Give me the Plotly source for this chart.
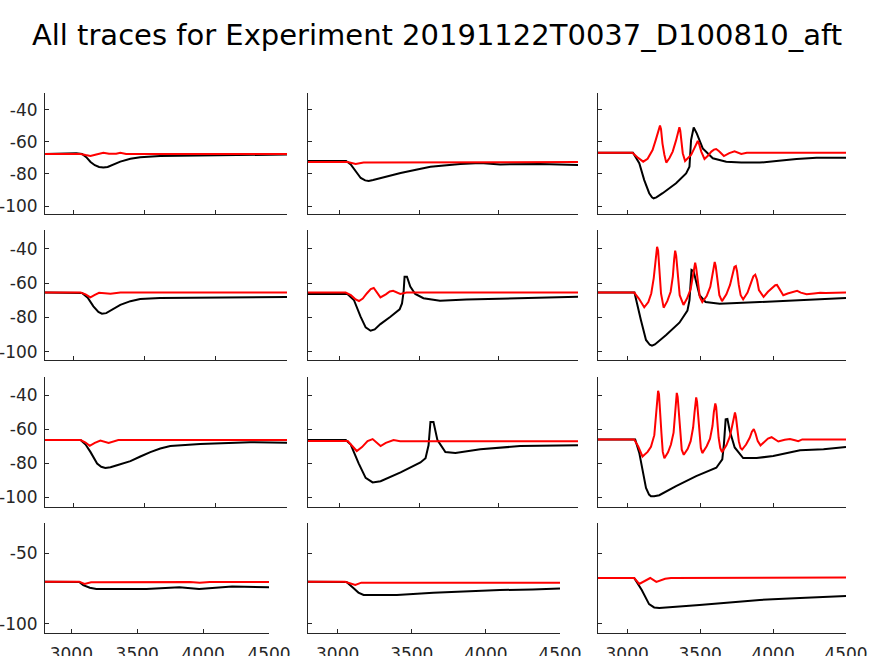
import plotly.graph_objects as go

W, H = 874, 656

# ---------------- data (time in ms, membrane potential in mV) ----------------
# Row 1
t_r1c1_black = [2800, 3020, 3060, 3090, 3120, 3150, 3180, 3210, 3240, 3280, 3329, 3400, 3469, 3608, 4007, 4500]
v_r1c1_black = [-67.5, -67.0, -67.5, -69.5, -72.5, -74.5, -75.6, -76.0, -75.6, -74.3, -72.3, -70.5, -69.6, -68.8, -68.5, -67.8]
t_r1c1_red = [2800, 3050, 3085, 3119, 3160, 3210, 3250, 3300, 3329, 3370, 4500]
v_r1c1_red = [-67.5, -67.5, -68.2, -68.8, -67.8, -66.7, -67.4, -67.4, -66.7, -67.5, -67.5]

t_r1c2_black = [2800, 3040, 3069, 3100, 3132, 3160, 3182, 3210, 3257, 3383, 3480, 3571, 3759, 3885, 4010, 4261, 4500]
v_r1c2_black = [-71.9, -71.9, -74.0, -78.5, -82.5, -84.0, -84.4, -83.8, -82.5, -79.4, -77.3, -75.5, -73.8, -73.1, -74.0, -73.8, -74.4]
t_r1c2_red = [2800, 3050, 3100, 3150, 4500]
v_r1c2_red = [-72.5, -72.5, -73.8, -72.8, -72.5]

t_r1c3_black = [2800, 3040, 3083, 3117, 3151, 3170, 3181, 3200, 3243, 3335, 3404, 3427, 3438, 3456, 3477,
                3518, 3587, 3679, 3782, 3908, 4023, 4161, 4298, 4500]
v_r1c3_black = [-66.7, -66.7, -73.3, -83.8, -92.0, -94.6, -95.2, -94.6, -92.0, -85.8, -79.6, -75.4, -58.8, -51.0, -54.6,
                -64.0, -70.2, -72.3, -72.9, -72.9, -71.9, -70.6, -69.8, -69.8]
t_r1c3_red = [2800, 3036, 3070, 3110, 3140, 3174, 3195, 3209, 3218, 3225, 3232, 3242, 3255, 3268, 3290, 3312,
              3335, 3347, 3354, 3358, 3364, 3372, 3381, 3397, 3420, 3439, 3460, 3475, 3484, 3494, 3508, 3530,
              3555, 3577, 3595, 3610, 3630, 3663, 3700, 3736, 3760, 3782, 3820, 4500]
v_r1c3_red = [-66.7, -66.7, -69.5, -72.3, -70.5, -65.0, -59.0, -54.6, -51.0, -49.8, -52.0, -61.0, -68.0, -72.9, -70.0, -66.0,
              -59.0, -54.6, -51.5, -50.8, -53.0, -61.0, -67.0, -71.9, -70.0, -68.0, -64.0, -60.5, -59.4, -61.5, -66.0, -70.6,
              -68.5, -66.0, -64.8, -64.4, -65.8, -68.8, -67.0, -65.8, -66.6, -67.5, -66.7, -66.7]

# Row 2
t_r2c1_black = [2800, 3060, 3100, 3140, 3175, 3200, 3230, 3270, 3329, 3400, 3469, 3608, 4000, 4500]
v_r2c1_black = [-65.5, -65.7, -68.5, -73.5, -76.8, -77.8, -77.5, -75.5, -72.7, -70.5, -69.2, -68.6, -68.4, -68.0]
t_r2c1_red = [2800, 3050, 3085, 3119, 3150, 3180, 3260, 3330, 4500]
v_r2c1_red = [-65.5, -65.5, -66.5, -68.3, -66.8, -65.6, -66.2, -65.5, -65.5]

t_r2c2_black = [2800, 3048, 3089, 3131, 3163, 3194, 3220, 3256, 3319, 3377, 3392, 3402, 3408, 3423, 3444,
                3475, 3527, 3631, 3798, 4006, 4214, 4500]
v_r2c2_black = [-66.3, -66.3, -69.8, -79.6, -85.8, -87.8, -87.0, -83.9, -79.6, -75.3, -71.8, -65.0, -56.2, -56.2, -62.0,
                -66.3, -68.8, -70.2, -69.6, -69.0, -68.5, -67.9]
t_r2c2_red = [2800, 3037, 3070, 3100, 3121, 3145, 3170, 3195, 3214, 3232, 3256, 3290, 3315, 3336, 3360, 3381, 3420, 4500]
v_r2c2_red = [-65.5, -65.5, -67.0, -69.5, -70.4, -69.0, -66.0, -63.5, -62.8, -65.0, -68.3, -66.5, -64.8, -64.4, -65.5, -66.3, -65.5, -65.5]

t_r2c3_black = [2800, 3050, 3094, 3129, 3155, 3170, 3190, 3267, 3358, 3413, 3427, 3441, 3455, 3496, 3537, 3634,
                3909, 4185, 4500]
v_r2c3_black = [-65.5, -65.5, -81.5, -93.2, -96.0, -96.5, -95.8, -90.3, -83.1, -76.0, -70.0, -52.3, -53.0, -67.0, -71.0, -72.0,
                -71.0, -69.8, -68.6]
t_r2c3_red = [2800, 3048, 3080, 3117, 3145, 3165, 3182, 3195, 3205, 3212, 3220, 3232, 3250,
              3275, 3298, 3313, 3322, 3329, 3336, 3345, 3360, 3386,
              3410, 3435, 3450, 3460, 3466, 3473, 3484, 3498, 3515,
              3545, 3570, 3585, 3595, 3600, 3607, 3618, 3632, 3650,
              3680, 3705, 3722, 3735, 3745, 3753, 3765, 3778, 3795,
              3825, 3850, 3865, 3878, 3890, 3903, 3935,
              3965, 3995, 4015, 4027, 4045, 4070,
              4100, 4140, 4165, 4190, 4230, 4280, 4323, 4360, 4500]
v_r2c3_red = [-65.5, -65.5, -69.0, -74.1, -71.0, -66.0, -57.0, -44.0, -38.7, -41.0, -52.0, -66.0, -74.3,
              -70.5, -65.0, -56.0, -46.0, -41.0, -44.0, -55.0, -67.0, -72.7,
              -69.0, -63.5, -56.0, -50.0, -48.0, -51.0, -60.0, -68.0, -71.0,
              -67.5, -62.0, -54.0, -48.5, -47.6, -50.0, -59.0, -67.0, -70.5,
              -66.5, -61.0, -54.0, -50.5, -50.0, -53.0, -61.0, -67.0, -69.5,
              -65.5, -59.5, -56.0, -55.0, -58.0, -64.0, -68.0,
              -65.0, -62.5, -61.2, -61.0, -63.5, -67.0,
              -66.0, -64.8, -64.5, -65.5, -66.5, -66.0, -65.6, -65.8, -65.5]

# Row 3
t_r3c1_black = [2800, 3050, 3085, 3119, 3166, 3195, 3224, 3260, 3306, 3400, 3470, 3540, 3610, 3680, 3890, 4240, 4500]
v_r3c1_black = [-66.4, -66.4, -69.0, -73.3, -80.1, -82.0, -82.7, -82.3, -81.1, -78.7, -76.0, -73.4, -71.3, -69.9, -68.7, -67.6, -68.0]
t_r3c1_red = [2800, 3050, 3085, 3114, 3150, 3189, 3247, 3315, 4500]
v_r3c1_red = [-66.4, -66.4, -67.8, -69.7, -68.0, -66.6, -68.0, -66.4, -66.4]

t_r3c2_black = [2800, 3038, 3069, 3119, 3163, 3207, 3257, 3383, 3508, 3540, 3559, 3571, 3590, 3615,
                3665, 3728, 3885, 4136, 4500]
v_r3c2_black = [-66.4, -66.4, -69.0, -80.0, -88.5, -91.2, -90.5, -85.3, -79.5, -77.0, -69.4, -55.8, -55.8, -66.4,
                -73.4, -74.0, -71.7, -69.9, -69.4]
t_r3c2_red = [2800, 3050, 3080, 3107, 3140, 3175, 3207, 3232, 3257, 3290, 3339, 3380, 4500]
v_r3c2_red = [-66.9, -66.9, -70.0, -72.8, -70.5, -67.0, -65.8, -68.0, -69.9, -68.0, -66.4, -67.0, -67.0]

t_r3c3_black = [2800, 3055, 3083, 3105, 3129, 3150, 3163, 3185, 3220, 3335, 3473, 3611, 3652, 3663, 3675, 3687,
                3703, 3737, 3795, 3887, 4001, 4185, 4346, 4500]
v_r3c3_black = [-66.0, -66.0, -73.9, -84.6, -94.4, -98.3, -99.3, -99.3, -98.7, -93.4, -87.5, -82.6, -77.7, -68.9, -54.2, -54.0,
                -60.9, -70.7, -76.9, -76.9, -75.7, -72.4, -71.8, -70.4]
t_r3c3_red = [2800, 3048, 3075, 3105, 3140, 3163, 3186, 3198, 3206, 3212, 3218, 3225, 3235, 3244, 3255,
              3280, 3300, 3318, 3328, 3335, 3340, 3346, 3353, 3362, 3374, 3388,
              3415, 3435, 3452, 3462, 3469, 3473, 3479, 3486, 3495, 3505, 3515,
              3545, 3568, 3585, 3594, 3601, 3604, 3610, 3617, 3627, 3638, 3650,
              3680, 3703, 3720, 3730, 3739, 3746, 3754, 3765, 3777, 3788,
              3815, 3840, 3855, 3868, 3880, 3895, 3914,
              3940, 3965, 3990, 4010, 4036, 4080, 4116, 4150, 4173, 4200, 4500]
v_r3c3_red = [-66.0, -66.0, -70.0, -76.0, -73.3, -70.3, -63.5, -49.0, -39.0, -37.5, -39.5, -47.0, -62.5, -73.3, -77.0,
              -73.5, -69.0, -62.0, -50.0, -40.5, -38.7, -41.0, -50.0, -63.0, -72.0, -75.0,
              -71.5, -67.0, -59.0, -50.0, -43.0, -41.4, -44.0, -53.0, -64.0, -71.0, -74.0,
              -70.0, -65.5, -58.0, -50.0, -46.0, -44.9, -47.0, -55.0, -65.0, -71.0, -73.5,
              -69.5, -64.5, -58.0, -52.5, -50.2, -53.0, -60.0, -67.0, -71.0, -71.9,
              -69.0, -65.0, -61.5, -60.0, -62.5, -67.0, -69.5,
              -67.5, -65.5, -64.7, -66.0, -67.2, -66.2, -65.8, -66.5, -67.0, -66.0, -66.0]

# Row 4
t_r4c1_black = [2800, 3060, 3090, 3140, 3190, 3290, 3570, 3820, 3970, 4220, 4500]
v_r4c1_black = [-70.1, -70.3, -72.5, -74.4, -75.2, -75.2, -75.2, -74.0, -75.2, -73.6, -74.0]
t_r4c1_red = [2800, 3060, 3100, 3150, 3900, 3974, 4050, 4500]
v_r4c1_red = [-70.1, -70.1, -71.7, -70.5, -70.3, -70.9, -70.3, -70.4]

t_r4c2_black = [2800, 3060, 3108, 3140, 3175, 3400, 3645, 3870, 4095, 4315, 4500]
v_r4c2_black = [-70.1, -70.3, -74.8, -77.8, -79.5, -79.5, -77.9, -76.7, -76.0, -75.6, -75.0]
t_r4c2_red = [2800, 3050, 3119, 3160, 4500]
v_r4c2_red = [-70.1, -70.1, -72.4, -70.8, -70.8]

t_r4c3_black = [2800, 3048, 3100, 3150, 3185, 3220, 3496, 3909, 4185, 4500]
v_r4c3_black = [-67.5, -67.5, -76.0, -86.0, -88.3, -88.7, -86.6, -83.0, -81.6, -80.2]
t_r4c3_red = [2800, 3048, 3083, 3120, 3158, 3200, 3260, 3300, 4500]
v_r4c3_red = [-67.5, -67.5, -71.7, -69.5, -67.5, -70.3, -68.0, -67.5, -67.2]

x_ticks = [3000, 3500, 4000, 4500]
y_ticks_upper = [-100, -80, -60, -40]
y_ticks_lower = [-100, -50]
title_text = "All traces for Experiment 20191122T0037_D100810_aft"

panels = [
    (t_r1c1_black, v_r1c1_black, t_r1c1_red, v_r1c1_red),
    (t_r1c2_black, v_r1c2_black, t_r1c2_red, v_r1c2_red),
    (t_r1c3_black, v_r1c3_black, t_r1c3_red, v_r1c3_red),
    (t_r2c1_black, v_r2c1_black, t_r2c1_red, v_r2c1_red),
    (t_r2c2_black, v_r2c2_black, t_r2c2_red, v_r2c2_red),
    (t_r2c3_black, v_r2c3_black, t_r2c3_red, v_r2c3_red),
    (t_r3c1_black, v_r3c1_black, t_r3c1_red, v_r3c1_red),
    (t_r3c2_black, v_r3c2_black, t_r3c2_red, v_r3c2_red),
    (t_r3c3_black, v_r3c3_black, t_r3c3_red, v_r3c3_red),
    (t_r4c1_black, v_r4c1_black, t_r4c1_red, v_r4c1_red),
    (t_r4c2_black, v_r4c2_black, t_r4c2_red, v_r4c2_red),
    (t_r4c3_black, v_r4c3_black, t_r4c3_red, v_r4c3_red),
]

# ---------------- layout (page-pixel geometry of each panel) ----------------
row_px = [(93, 214), (230, 360), (377, 507), (523, 633)]
y_ranges = [(-105.0, -29.4), (-104.9, -28.9), (-105.6, -29.4), (-106.4, -28.6)]
col_px_upper = [(45, 287), (308, 578), (598, 846)]
col_px_lower = [(45, 269), (308, 560), (598, 846)]


def fx(px):
    return px / W


def fy(py):
    return 1 - py / H


AX = "#262626"
FONT = "DejaVu Sans"

fig = go.Figure()
layout = {}
for i, (tb, vb, tr, vr) in enumerate(panels):
    r, c = divmod(i, 3)
    n = i + 1
    xa = "x" if n == 1 else f"x{n}"
    ya = "y" if n == 1 else f"y{n}"
    fig.add_trace(go.Scatter(x=tb, y=vb, mode="lines", xaxis=xa, yaxis=ya,
                             line=dict(color="black", width=2), showlegend=False, hoverinfo="skip"))
    fig.add_trace(go.Scatter(x=tr, y=vr, mode="lines", xaxis=xa, yaxis=ya,
                             line=dict(color="#ff0000", width=2), showlegend=False, hoverinfo="skip"))
    cols = col_px_lower if r == 3 else col_px_upper
    x0, x1 = cols[c]
    y0, y1 = row_px[r]
    xkey = "xaxis" if n == 1 else f"xaxis{n}"
    ykey = "yaxis" if n == 1 else f"yaxis{n}"
    layout[xkey] = dict(
        domain=[fx(x0), fx(x1)], anchor=ya, range=[2800, 4500],
        tickvals=x_ticks, ticktext=[str(v) for v in x_ticks],
        showticklabels=(r == 3), ticks="inside", ticklen=4, tickcolor=AX,
        showline=True, linecolor=AX, linewidth=1, showgrid=False, zeroline=False,
        tickfont=dict(family=FONT, size=17, color=AX), ticklabelstandoff=6,
    )
    yt = y_ticks_lower if r == 3 else y_ticks_upper
    layout[ykey] = dict(
        domain=[fy(y1), fy(y0)], anchor=xa, range=list(y_ranges[r]),
        tickvals=yt, ticktext=[str(v) for v in yt],
        showticklabels=(c == 0), ticks="inside", ticklen=4, tickcolor=AX,
        showline=True, linecolor=AX, linewidth=1, showgrid=False, zeroline=False,
        tickfont=dict(family=FONT, size=17, color=AX), ticklabelstandoff=3,
    )

fig.update_layout(
    width=W, height=H, margin=dict(l=0, r=0, t=0, b=0, autoexpand=False),
    paper_bgcolor="white", plot_bgcolor="white",
    title=dict(text=title_text, x=fx(437), xanchor="center", y=fy(35), yanchor="middle",
               yref="container", font=dict(family=FONT, size=29, color="black")),
    **layout,
)

# place the figure at the page's top-left corner (no default body margin), no mode bar
fig.write_html("out.html",
               config={"displayModeBar": False, "staticPlot": True},
               post_script="document.body.style.margin='0';document.body.style.overflow='hidden';")
